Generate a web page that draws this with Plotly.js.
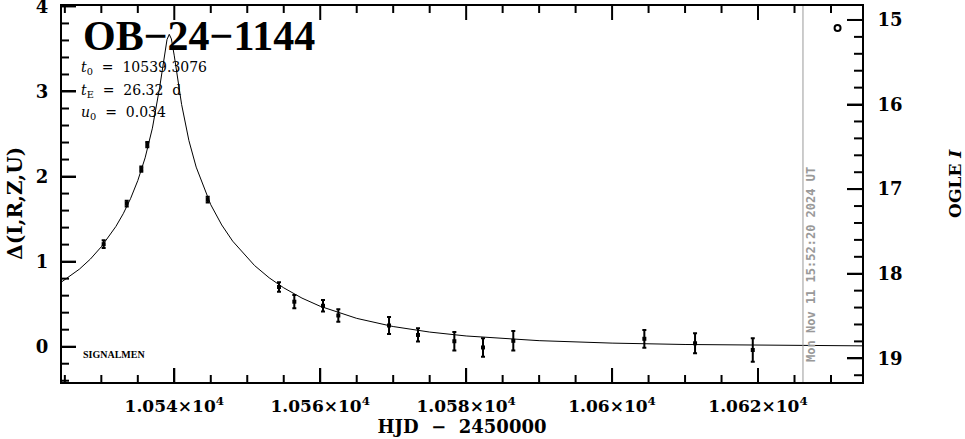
<!DOCTYPE html>
<html>
<head>
<meta charset="utf-8">
<script src="https://cdn.plot.ly/plotly-3.0.1.min.js"></script>
<style>html,body{margin:0;padding:0;background:#fff;}#chart{width:965px;height:439px;}</style>
</head>
<body>
<div id="chart"></div>
<script>
// Observed photometry (HJD - 2450000, delta magnitude, error)
const hjd = [10530.32, 10533.48, 10535.48, 10536.30, 10544.58, 10554.35, 10556.45, 10560.38, 10562.48, 10569.43, 10573.40, 10578.38, 10582.31, 10586.46, 10604.42, 10611.37, 10619.28];
const dmag = [1.205, 1.682, 2.087, 2.376, 1.729, 0.702, 0.529, 0.481, 0.367, 0.249, 0.138, 0.064, -0.009, 0.069, 0.093, 0.040, -0.039];
const dmagErr = [0.045, 0.035, 0.030, 0.030, 0.035, 0.055, 0.078, 0.068, 0.073, 0.100, 0.078, 0.110, 0.108, 0.115, 0.104, 0.118, 0.137];

// Model curve
const modelT = [10524.61, 10527, 10528.5, 10530, 10532, 10533, 10534, 10535, 10536, 10537, 10538, 10538.5, 10539, 10539.31, 10539.6, 10540, 10540.5, 10541, 10542, 10543, 10545, 10546.5, 10548, 10551, 10553, 10555, 10557.5, 10560, 10565, 10570, 10575, 10580, 10590, 10600, 10610, 10620, 10634.25];
const modelD = [0.765, 0.912, 1.030, 1.175, 1.414, 1.563, 1.740, 1.953, 2.220, 2.569, 3.051, 3.347, 3.610, 3.672, 3.618, 3.419, 3.120, 2.849, 2.424, 2.111, 1.669, 1.431, 1.241, 0.954, 0.810, 0.692, 0.571, 0.475, 0.333, 0.237, 0.172, 0.126, 0.071, 0.042, 0.026, 0.017, 0.010];

// Extra marker at top right
const markT = [10630.9];
const markD = [3.746];

// Current time line
const nowHJD = 10626.16;
const nowLabel = "Mon Nov 11 15:52:20 2024 UT";

// Event info
const eventName = "OB\u221224\u22121144";
const paramLines = ["<i>t</i><sub>0</sub>\u00a0 =\u00a0 10539.3076", "<i>t</i><sub>E</sub>\u00a0 =\u00a0 26.32\u00a0 d", "<i>u</i><sub>0</sub>\u00a0 =\u00a0 0.034"];
const xTitle = "HJD\u00a0 \u2212\u00a0 2450000";
const yTitle = "\u0394(I,R,Z,U)";
const y2Title = "OGLE <i>I</i>";

// Tick labels
const xTickVals = [10540, 10560, 10580, 10600, 10620];
const xTickText = ["1.054×10<sup>4</sup>", "1.056×10<sup>4</sup>", "1.058×10<sup>4</sup>", "1.06×10<sup>4</sup>", "1.062×10<sup>4</sup>"];
const yTickVals = [0, 1, 2, 3, 4];
const y2TickVals = [15, 16, 17, 18, 19];

const xRange = [10524.61, 10634.25];
const yRange = [-0.415, 4.005];
const y2Range = [19.28, 14.835];

const W = 965, H = 439, M = {l: 62, r: 103, t: 6, b: 57};
const plotW = W - M.l - M.r, plotH = H - M.t - M.b;
const pxX = plotW / (xRange[1] - xRange[0]);
const pxY = plotH / (yRange[1] - yRange[0]);
const pxY2 = plotH / (y2Range[0] - y2Range[1]);

const serif = "DejaVu Serif";
const boldSerif = function(sz){ return {family: serif, size: sz, color: "#000", weight: 700}; };

// minor tick positions along the axes (axis decoration, not data)
function minorTicks(lo, hi, step, majors) {
  const out = [];
  const n0 = Math.ceil(lo / step - 1e-9), n1 = Math.floor(hi / step + 1e-9);
  for (let n = n0; n <= n1; n++) {
    const v = +(n * step).toFixed(6);
    if (!majors.some(function(m){ return Math.abs(m - v) < 1e-6; })) out.push(v);
  }
  return out;
}
const xMinor = minorTicks(xRange[0], xRange[1], 5, xTickVals);
const yMinor = minorTicks(yRange[0], yRange[1], 0.2, yTickVals);
const y2Minor = minorTicks(y2Range[1], y2Range[0], 0.2, y2TickVals);

// tick marks as line segments through the axes' own scales
const tX = [], tY = [], t2X = [], t2Y = [];
function xTicks(vals, len) {
  const d = len / pxY;
  vals.forEach(function(v){
    tX.push(v, v, null); tY.push(yRange[0], yRange[0] + d, null);
    tX.push(v, v, null); tY.push(yRange[1], yRange[1] - d, null);
  });
}
function yTicks(vals, len) {
  const d = len / pxX;
  vals.forEach(function(v){ tX.push(xRange[0], xRange[0] + d, null); tY.push(v, v, null); });
}
function y2Ticks(vals, len) {
  const d = len / pxX;
  vals.forEach(function(v){ t2X.push(xRange[1] - d, xRange[1], null); t2Y.push(v, v, null); });
}
xTicks(xTickVals, 14); xTicks(xMinor, 7);
yTicks(yTickVals, 14); yTicks(yMinor, 7);
y2Ticks(y2TickVals, 15); y2Ticks(y2Minor, 8);

const traces = [
  {x: tX, y: tY, type: "scatter", mode: "lines", line: {color: "#000", width: 2}, connectgaps: false, hoverinfo: "skip"},
  {x: t2X, y: t2Y, yaxis: "y2", type: "scatter", mode: "lines", line: {color: "#000", width: 2}, connectgaps: false, hoverinfo: "skip"},
  {x: modelT, y: modelD, type: "scatter", mode: "lines", line: {color: "#000", width: 1}, hoverinfo: "skip"},
  {x: hjd, y: dmag, type: "scatter", mode: "markers",
   marker: {color: "#000", size: 4, symbol: "square"},
   error_y: {type: "data", array: dmagErr, visible: true, color: "#000", thickness: 2, width: 2}},
  {x: markT, y: markD, type: "scatter", mode: "markers",
   marker: {color: "#000", size: 6, symbol: "circle-open", line: {width: 2, color: "#000"}}}
];

const layout = {
  width: W, height: H,
  margin: M,
  paper_bgcolor: "#fff", plot_bgcolor: "#fff",
  showlegend: false,
  xaxis: {
    range: xRange,
    tickmode: "array", tickvals: xTickVals, ticktext: xTickText,
    ticks: "inside", ticklen: 14, tickwidth: 2, tickcolor: "#000",
    showline: true, linewidth: 2, linecolor: "#000", mirror: true,
    showgrid: false, zeroline: false,
    tickfont: boldSerif(17), ticklabelstandoff: 8, ticklabeloverflow: "allow",
    title: {text: xTitle, font: boldSerif(18), standoff: 4}
  },
  yaxis: {
    range: yRange,
    tickmode: "array", tickvals: yTickVals,
    ticks: "inside", ticklen: 14, tickwidth: 2, tickcolor: "#000",
    showline: true, linewidth: 2, linecolor: "#000",
    showgrid: false, zeroline: false,
    tickfont: boldSerif(18), ticklabelstandoff: 8, ticklabeloverflow: "allow"
  },
  yaxis2: {
    overlaying: "y", side: "right",
    range: y2Range,
    tickmode: "array", tickvals: y2TickVals,
    ticks: "inside", ticklen: 15, tickwidth: 2, tickcolor: "#000",
    showline: true, linewidth: 2, linecolor: "#000",
    showgrid: false, zeroline: false,
    tickfont: boldSerif(18), ticklabelstandoff: 10, ticklabeloverflow: "allow"
  },
  shapes: [
    {type: "line", xref: "x", yref: "paper", x0: nowHJD, x1: nowHJD, y0: 0, y1: 1,
     line: {color: "#999", width: 1}}
  ],
  annotations: [
    {text: eventName, xref: "paper", yref: "paper", x: 0.024, y: 0.92, xanchor: "left", yanchor: "middle",
     showarrow: false, font: {family: "Liberation Serif", size: 42, color: "#000", weight: 700}},
    {text: paramLines[0], xref: "paper", yref: "paper", x: 0.021, y: 0.835, xanchor: "left", yanchor: "middle",
     showarrow: false, font: {family: serif, size: 14, color: "#000"}},
    {text: paramLines[1], xref: "paper", yref: "paper", x: 0.021, y: 0.775, xanchor: "left", yanchor: "middle",
     showarrow: false, font: {family: serif, size: 14, color: "#000"}},
    {text: paramLines[2], xref: "paper", yref: "paper", x: 0.021, y: 0.716, xanchor: "left", yanchor: "middle",
     showarrow: false, font: {family: serif, size: 14, color: "#000"}},
    {text: "SIGNALMEN", xref: "paper", yref: "paper", x: 0.024, y: 0.072, xanchor: "left", yanchor: "middle",
     showarrow: false, font: {family: "Liberation Serif", size: 10, color: "#000", weight: 700}},
    {text: nowLabel, xref: "x", yref: "paper", x: nowHJD, y: 0.314, xanchor: "left", yanchor: "middle",
     textangle: -90, showarrow: false, xshift: -1,
     font: {family: "DejaVu Sans Mono", size: 12, color: "#999", weight: 700}},
    {text: yTitle, xref: "paper", yref: "paper", x: -0.059, y: 0.476, xanchor: "center", yanchor: "middle",
     textangle: -90, showarrow: false, font: boldSerif(20)},
    {text: y2Title, xref: "paper", yref: "paper", x: 1.116, y: 0.529, xanchor: "center", yanchor: "middle",
     textangle: -90, showarrow: false, font: boldSerif(17)}
  ]
};

Plotly.newPlot("chart", traces, layout, {staticPlot: true, displayModeBar: false});
</script>
</body>
</html>
